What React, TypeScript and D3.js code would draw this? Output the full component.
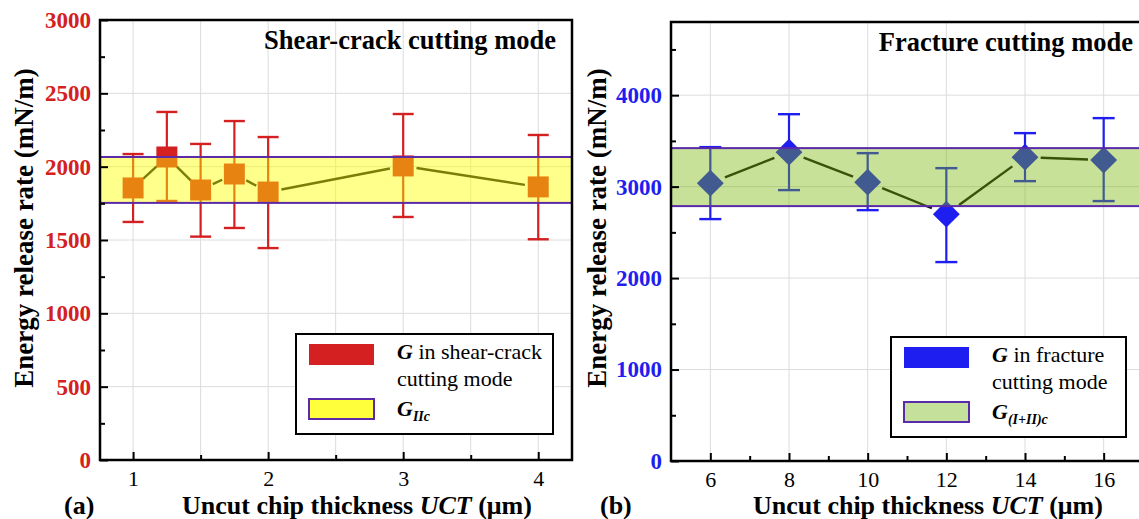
import { useEffect, useRef } from 'react';
import * as d3 from 'd3';

// (a) shear-crack cutting mode
const shearUct = [1, 1.25, 1.5, 1.75, 2, 3, 4];
const shearG = [1855, 2066, 1841, 1950, 1827, 2005, 1862];
const shearHigh = [2086, 2373, 2155, 2311, 2202, 2359, 2216];
const shearLow = [1623, 1766, 1523, 1582, 1445, 1657, 1505];
const shearBand = [1753, 2066];
const shearXTicks = [1, 2, 3, 4];
const shearXMinor = [1.5, 2.5, 3.5];
const shearXGrid = [1, 1.5, 2, 2.5, 3, 3.5, 4];
const shearYTicks = [0, 500, 1000, 1500, 2000, 2500, 3000];
const shearYMinor = [250, 750, 1250, 1750, 2250, 2750];

// (b) fracture cutting mode
const fracUct = [6, 8, 10, 12, 14, 16];
const fracG = [3038, 3377, 3049, 2699, 3322, 3290];
const fracHigh = [3432, 3792, 3366, 3202, 3585, 3749];
const fracLow = [2645, 2962, 2743, 2175, 3060, 2842];
const fracBand = [2787, 3421];
const fracXTicks = [6, 8, 10, 12, 14, 16];
const fracXMinor = [7, 9, 11, 13, 15];
const fracYTicks = [0, 1000, 2000, 3000, 4000];
const fracYMinor = [500, 1500, 2500, 3500, 4500];

const FONT = "'Liberation Serif', 'Times New Roman', 'DejaVu Serif', serif";

interface PanelCfg {
  left: number; right: number; top: number; bottom: number;
  xDomain: [number, number]; yDomain: [number, number];
  xs: number[]; ys: number[]; hi: number[]; lo: number[]; band: number[];
  xTicks: number[]; xMinor: number[]; xGrid: number[];
  yTicks: number[]; yMinor: number[];
  color: string; bandFill: string; bandAlpha: number;
  marker: 'square' | 'diamond'; markerSide: number; capW: number;
  title: string; titleRight: number; tag: string; tagX: number; xTitleX: number; yTitleX: number;
  legendBox: [number, number, number, number];
  legendLabel: string[]; legendSub: string;
  legendSolid: string; legendBandSwatch: string;
}

function drawPanel(svg: d3.Selection<SVGSVGElement, unknown, null, undefined>, c: PanelCfg) {
  const x = d3.scaleLinear().domain(c.xDomain).range([c.left, c.right]);
  const y = d3.scaleLinear().domain(c.yDomain).range([c.bottom, c.top]);
  const g = svg.append('g');

  // grid
  g.selectAll('.vg').data(c.xGrid).enter().append('line')
    .attr('x1', d => x(d)).attr('x2', d => x(d)).attr('y1', c.top).attr('y2', c.bottom)
    .attr('stroke', '#dcdcdc').attr('stroke-width', 1);
  g.selectAll('.hg').data(c.yTicks).enter().append('line')
    .attr('x1', c.left).attr('x2', c.right).attr('y1', d => y(d)).attr('y2', d => y(d))
    .attr('stroke', '#dcdcdc').attr('stroke-width', 1);

  // error bars
  const idx = d3.range(c.xs.length);
  g.selectAll('.eb').data(idx).enter().append('line')
    .attr('x1', i => x(c.xs[i])).attr('x2', i => x(c.xs[i]))
    .attr('y1', i => y(c.hi[i])).attr('y2', i => y(c.lo[i]))
    .attr('stroke', c.color).attr('stroke-width', 2.2);
  [c.hi, c.lo].forEach(arr => {
    g.selectAll(null).data(idx).enter().append('line')
      .attr('x1', i => x(c.xs[i]) - c.capW / 2).attr('x2', i => x(c.xs[i]) + c.capW / 2)
      .attr('y1', i => y(arr[i])).attr('y2', i => y(arr[i]))
      .attr('stroke', c.color).attr('stroke-width', 2.4);
  });

  // connecting line with gaps near markers
  const gap = c.marker === 'square' ? c.markerSide / 2 + 3 : c.markerSide * 0.72 + 2;
  const pts = idx.map(i => [x(c.xs[i]), y(c.ys[i])] as [number, number]);
  const line = d3.line();
  for (let i = 0; i < pts.length - 1; i++) {
    const [x0, y0] = pts[i];
    const [x1, y1] = pts[i + 1];
    const len = Math.hypot(x1 - x0, y1 - y0);
    if (len <= gap * 2) continue;
    const ux = (x1 - x0) / len, uy = (y1 - y0) / len;
    g.append('path')
      .attr('d', line([[x0 + ux * gap, y0 + uy * gap], [x1 - ux * gap, y1 - uy * gap]]))
      .attr('stroke', '#111').attr('stroke-width', 2.4).attr('fill', 'none');
  }

  // markers
  const sym = d3.symbol().type(d3.symbolSquare).size(c.markerSide * c.markerSide);
  g.selectAll('.mk').data(idx).enter().append('path')
    .attr('d', sym())
    .attr('transform', i => `translate(${x(c.xs[i])},${y(c.ys[i])})${c.marker === 'diamond' ? ' rotate(45)' : ''}`)
    .attr('fill', c.color);

  // translucent band on top
  g.append('rect')
    .attr('x', c.left).attr('width', c.right - c.left)
    .attr('y', y(c.band[1])).attr('height', y(c.band[0]) - y(c.band[1]))
    .attr('fill', c.bandFill).attr('fill-opacity', c.bandAlpha)
    .attr('stroke', '#5b2aa8').attr('stroke-width', 2);

  // axes
  const xAxis = g.append('g').attr('transform', `translate(0,${c.bottom})`)
    .call(d3.axisBottom(x).tickValues(c.xTicks).tickSize(-8).tickPadding(10).tickFormat(d3.format('d')));
  g.append('g').attr('transform', `translate(0,${c.bottom})`)
    .call(d3.axisBottom(x).tickValues(c.xMinor).tickSize(-5).tickFormat(() => ''));
  const yAxis = g.append('g').attr('transform', `translate(${c.left},0)`)
    .call(d3.axisLeft(y).tickValues(c.yTicks).tickSize(-8).tickPadding(9).tickFormat(d3.format('d')));
  g.append('g').attr('transform', `translate(${c.left},0)`)
    .call(d3.axisLeft(y).tickValues(c.yMinor).tickSize(-5).tickFormat(() => ''));
  g.selectAll('.domain').remove();
  g.selectAll('.tick line').attr('stroke', '#000').attr('stroke-width', 2);
  xAxis.selectAll('text').attr('font-family', null).style('font-family', FONT)
    .style('font-size', '22px').attr('fill', '#000');
  yAxis.selectAll('text').attr('font-family', null).style('font-family', FONT)
    .style('font-size', '23px').style('font-weight', 'bold').attr('fill', c.color);

  // frame
  g.append('rect').attr('x', c.left).attr('y', c.top)
    .attr('width', c.right - c.left).attr('height', c.bottom - c.top)
    .attr('fill', 'none').attr('stroke', '#000').attr('stroke-width', 2.5);

  // title
  g.append('text').attr('x', c.titleRight).attr('y', c.top + 29)
    .attr('text-anchor', 'end').style('font-family', FONT).style('font-size', '26.5px')
    .style('font-weight', 'bold').text(c.title);

  // axis titles
  g.append('text')
    .attr('transform', `translate(${c.yTitleX},228) rotate(-90)`)
    .attr('text-anchor', 'middle').attr('dy', '0.35em').style('font-family', FONT).style('font-size', '27px')
    .style('font-weight', 'bold').text('Energy release rate (mN/m)');
  const xt = g.append('text').attr('x', c.xTitleX).attr('y', 514)
    .style('font-family', FONT).style('font-size', '26px').style('font-weight', 'bold');
  xt.append('tspan').text('Uncut chip thickness ');
  xt.append('tspan').style('font-style', 'italic').text('UCT');
  xt.append('tspan').text(' (μm)');
  g.append('text').attr('x', c.tagX).attr('y', 514)
    .style('font-family', FONT).style('font-size', '26px').style('font-weight', 'bold').text(c.tag);

  // legend
  const [lx, ly, lw, lh] = c.legendBox;
  const lg = g.append('g');
  lg.append('rect').attr('x', lx).attr('y', ly).attr('width', lw).attr('height', lh)
    .attr('fill', '#fff').attr('stroke', '#000').attr('stroke-width', 2);
  lg.append('rect').attr('x', lx + 13).attr('y', ly + 10).attr('width', 65).attr('height', 21)
    .attr('fill', c.legendSolid);
  lg.append('rect').attr('x', lx + 13).attr('y', ly + 65).attr('width', 65).attr('height', 20)
    .attr('fill', c.legendBandSwatch).attr('stroke', '#5b2aa8').attr('stroke-width', 2);
  const t1 = lg.append('text').attr('x', lx + 101).attr('y', ly + 25)
    .style('font-family', FONT).style('font-size', '22px');
  t1.append('tspan').style('font-style', 'italic').style('font-weight', 'bold').text('G');
  t1.append('tspan').text(c.legendLabel[0]);
  lg.append('text').attr('x', lx + 101).attr('y', ly + 52)
    .style('font-family', FONT).style('font-size', '22px').text(c.legendLabel[1]);
  const t3 = lg.append('text').attr('x', lx + 101).attr('y', ly + 82)
    .style('font-family', FONT).style('font-size', '22px').style('font-weight', 'bold').style('font-style', 'italic');
  t3.append('tspan').text('G');
  t3.append('tspan').style('font-size', '14px').attr('dy', 5).text(c.legendSub);
}

const App = () => {
  const svgRef = useRef<SVGSVGElement>(null);

  useEffect(() => {
    if (!svgRef.current) return;
    const svg = d3.select(svgRef.current);
    svg.selectAll('*').remove();

    drawPanel(svg, {
      left: 100, right: 572, top: 20, bottom: 460,
      xDomain: [0.755, 4.25], yDomain: [0, 3000],
      xs: shearUct, ys: shearG, hi: shearHigh, lo: shearLow, band: shearBand,
      xTicks: shearXTicks, xMinor: shearXMinor, xGrid: shearXGrid,
      yTicks: shearYTicks, yMinor: shearYMinor,
      color: '#d42020', bandFill: '#ffff00', bandAlpha: 0.45,
      marker: 'square', markerSide: 21, capW: 21,
      title: 'Shear-crack cutting mode', titleRight: 556, tag: '(a)', tagX: 64, xTitleX: 182, yTitleX: 24,
      legendBox: [296, 334, 257, 100],
      legendLabel: [' in shear-crack', 'cutting mode'], legendSub: 'IIc',
      legendSolid: '#d42020', legendBandSwatch: '#ffff3c',
    });

    drawPanel(svg, {
      left: 671, right: 1143, top: 22, bottom: 461,
      xDomain: [5, 17], yDomain: [0, 4800],
      xs: fracUct, ys: fracG, hi: fracHigh, lo: fracLow, band: fracBand,
      xTicks: fracXTicks, xMinor: fracXMinor, xGrid: fracXTicks,
      yTicks: fracYTicks, yMinor: fracYMinor,
      color: '#1e1ef0', bandFill: '#75b400', bandAlpha: 0.4,
      marker: 'diamond', markerSide: 19, capW: 22,
      title: 'Fracture cutting mode', titleRight: 1133, tag: '(b)', tagX: 600, xTitleX: 753, yTitleX: 597,
      legendBox: [891, 337, 235, 100],
      legendLabel: [' in fracture', 'cutting mode'], legendSub: '(I+II)c',
      legendSolid: '#1e1ef0', legendBandSwatch: '#c4e09a',
    });
  }, []);

  return (
    <svg ref={svgRef} width={1139} height={519}
      style={{ position: 'absolute', left: 0, top: 0, background: '#fff' }} />
  );
};

export default App;
